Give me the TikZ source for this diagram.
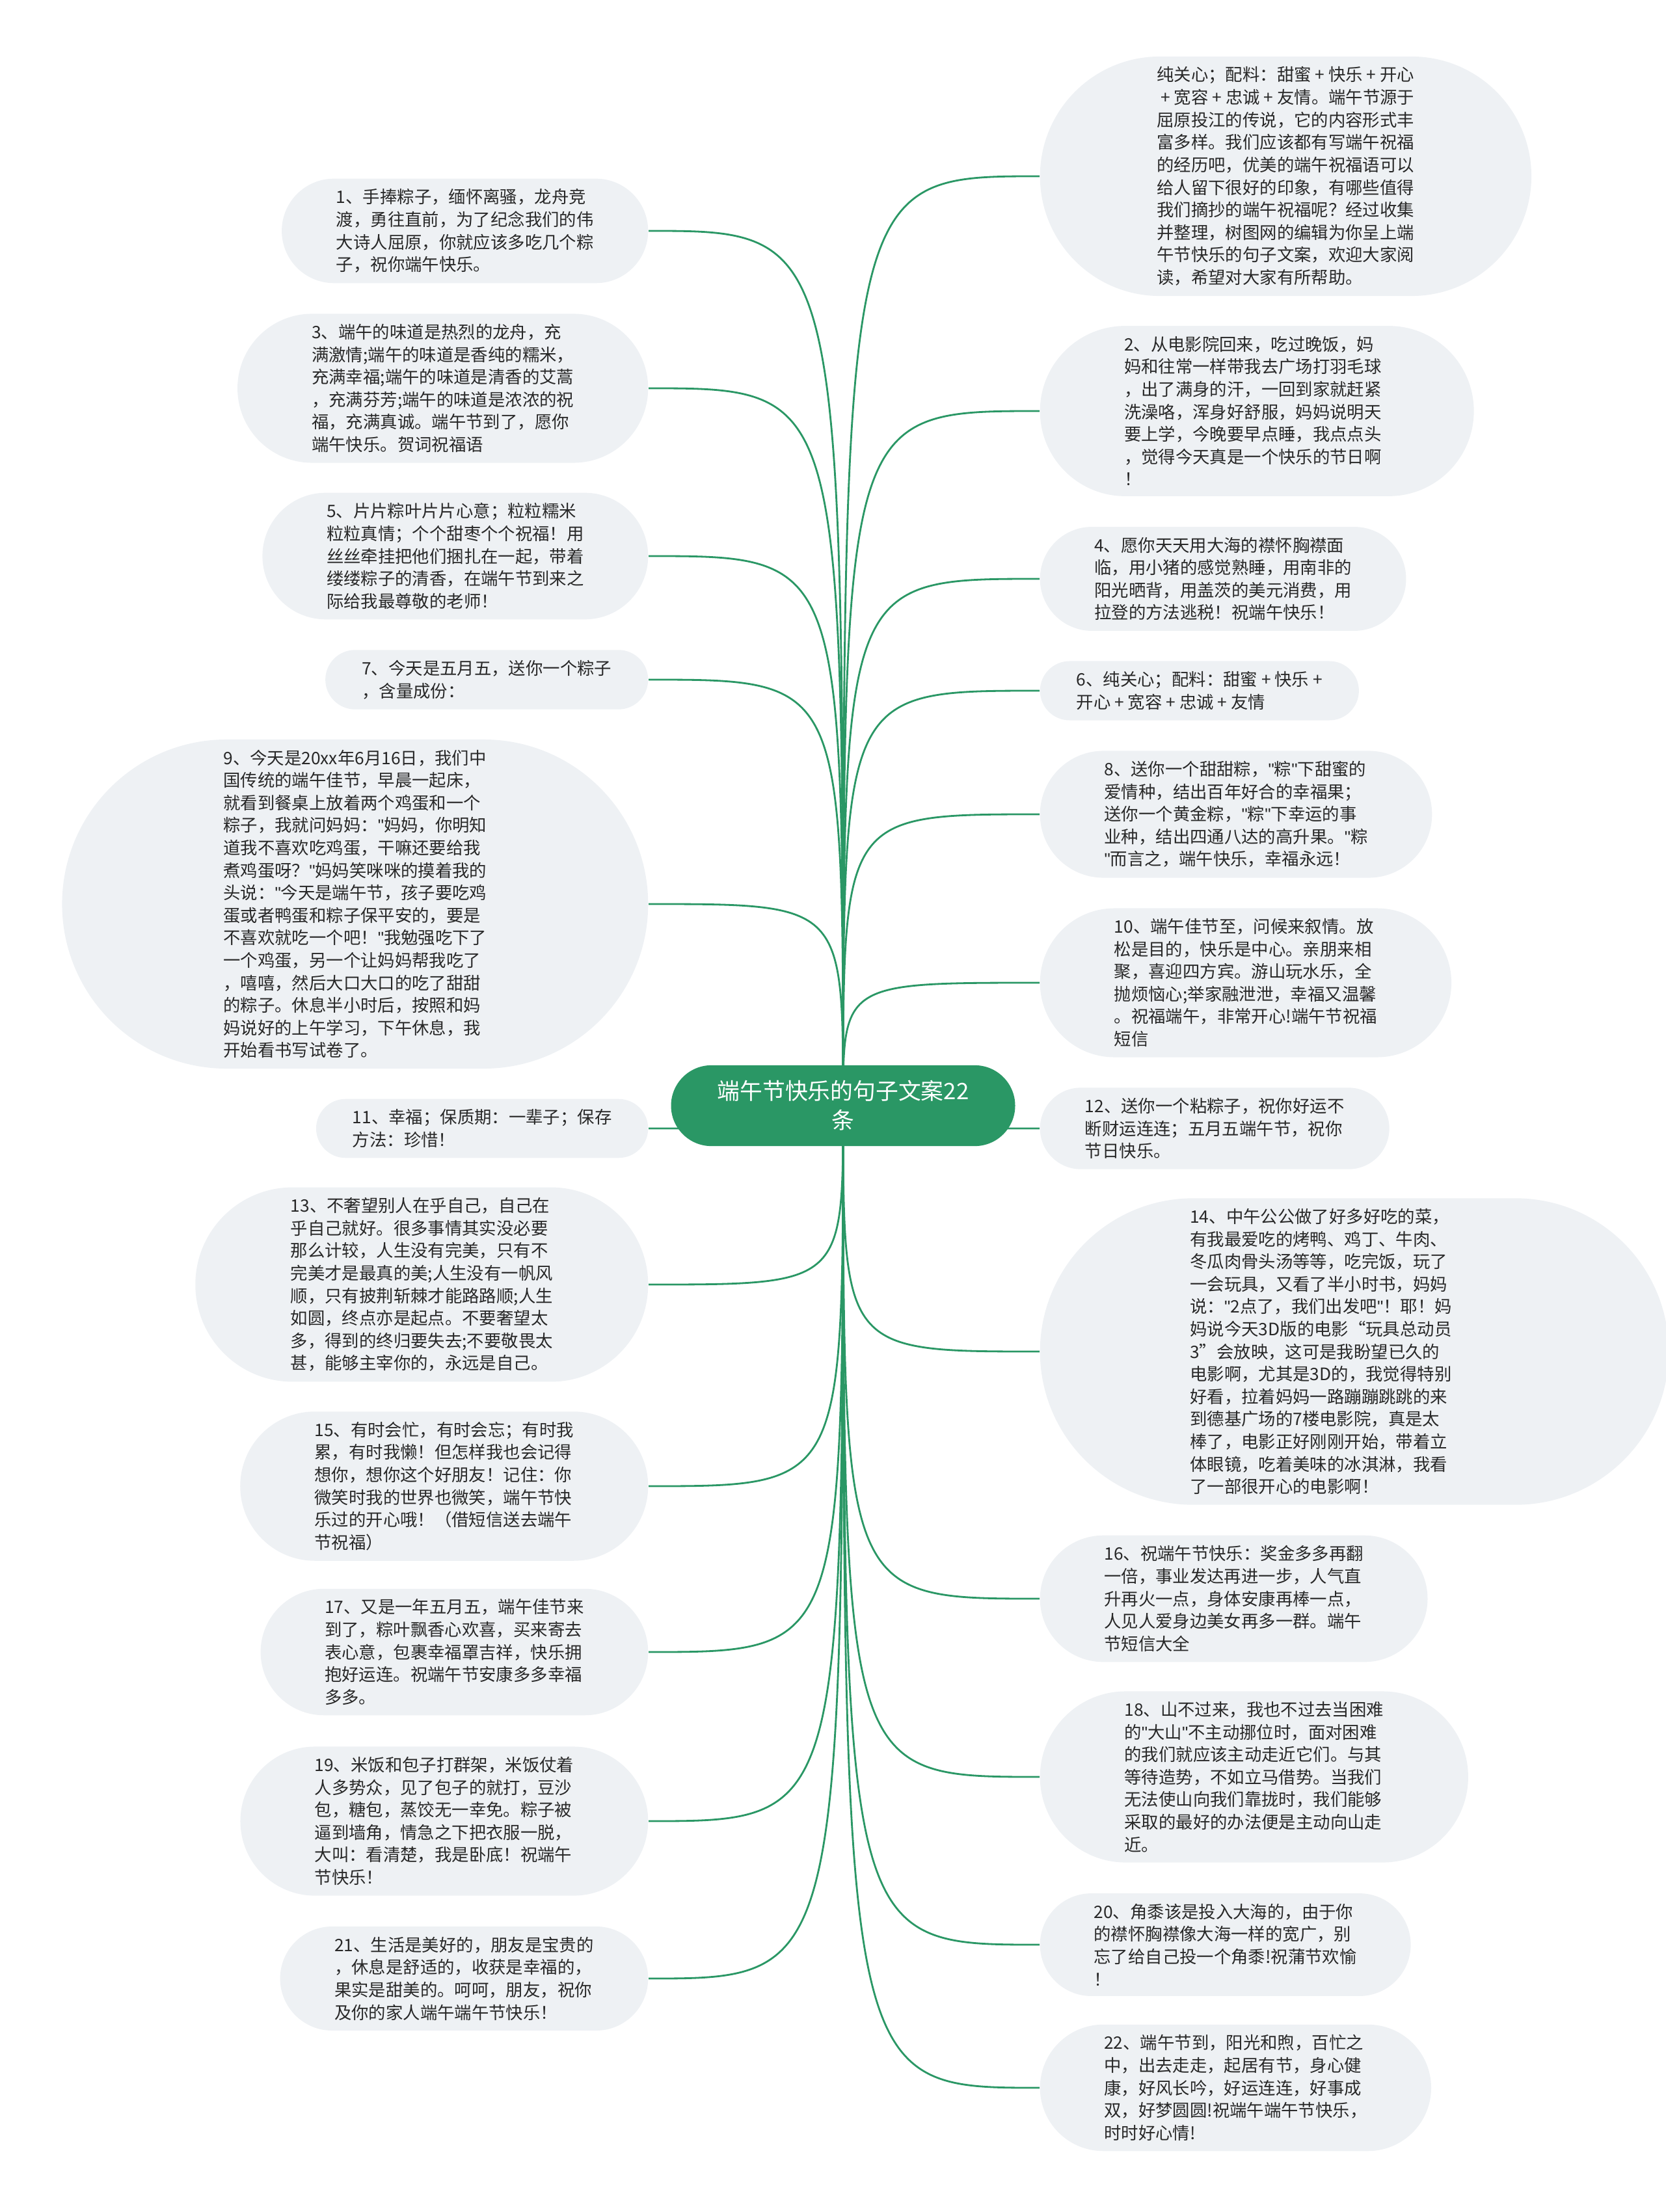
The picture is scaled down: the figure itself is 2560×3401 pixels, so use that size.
\documentclass[tikz,border=0pt]{standalone}
\usepackage{fontspec}
\setmainfont{Noto Sans CJK SC}
\newfontfamily\quotefont{Liberation Sans}
\usepackage{tikz}
\usetikzlibrary{shapes,backgrounds}
\definecolor{zonggreen}{RGB}{42,151,101}
\definecolor{leafgrey}{RGB}{238,241,244}
\definecolor{inkgrey}{RGB}{40,40,40}
\newcommand{\leaffont}{\fontsize{7.5pt}{9.84pt}\selectfont}
\newcommand{\rootfont}{\fontsize{9.9pt}{12.8pt}\selectfont}
\newcommand{\dq}{{\quotefont"}}

\begin{document}
\begin{tikzpicture}[x=0.01cm, y=-0.01cm,
    leaf/.style={rounded rectangle, fill=leafgrey, text=inkgrey, align=left,
        font=\leaffont, inner xsep={11pt+0.9pt*#1}, inner ysep=4.5pt},
    rootbox/.style={rounded rectangle, fill=zonggreen, text=white, align=center,
        font=\rootfont, inner xsep=16.4pt, inner ysep=6.7pt},
    link/.style={draw=zonggreen, line width=0.8pt}]
    \useasboundingbox (0,0) rectangle (2560,3401);

    \node[rootbox] (root) at (1296,1700) {端午节快乐的句子文案22\\条};

    % left side, leaf=<number of lines>
    \begin{scope}[every node/.style={anchor=east}]
        \node[leaf=4] (s1) at (997,355) {1、手捧粽子，缅怀离骚，龙舟竞\\渡，勇往直前，为了纪念我们的伟\\大诗人屈原，你就应该多吃几个粽\\子，祝你端午快乐。};
        \node[leaf=6] (s3) at (997,597) {3、端午的味道是热烈的龙舟，充\\满激情;端午的味道是香纯的糯米，\\充满幸福;端午的味道是清香的艾蒿\\，充满芬芳;端午的味道是浓浓的祝\\福，充满真诚。端午节到了，愿你\\端午快乐。贺词祝福语};
        \node[leaf=5] (s5) at (997,855) {5、片片粽叶片片心意；粒粒糯米\\粒粒真情；个个甜枣个个祝福！用\\丝丝牵挂把他们捆扎在一起，带着\\缕缕粽子的清香，在端午节到来之\\际给我最尊敬的老师！};
        \node[leaf=2] (s7) at (997,1045) {7、今天是五月五，送你一个粽子\\，含量成份：};
        \node[leaf=14] (s9) at (997,1390) {9、今天是20xx年6月16日，我们中\\国传统的端午佳节，早晨一起床，\\就看到餐桌上放着两个鸡蛋和一个\\粽子，我就问妈妈：\dq{}妈妈，你明知\\道我不喜欢吃鸡蛋，干嘛还要给我\\煮鸡蛋呀？\dq{}妈妈笑咪咪的摸着我的\\头说：\dq{}今天是端午节，孩子要吃鸡\\蛋或者鸭蛋和粽子保平安的，要是\\不喜欢就吃一个吧！\dq{}我勉强吃下了\\一个鸡蛋，另一个让妈妈帮我吃了\\，嘻嘻，然后大口大口的吃了甜甜\\的粽子。休息半小时后，按照和妈\\妈说好的上午学习，下午休息，我\\开始看书写试卷了。};
        \node[leaf=2] (s11) at (997,1735) {11、幸福；保质期：一辈子；保存\\方法：珍惜！};
        \node[leaf=8] (s13) at (997,1975) {13、不奢望别人在乎自己，自己在\\乎自己就好。很多事情其实没必要\\那么计较，人生没有完美，只有不\\完美才是最真的美;人生没有一帆风\\顺，只有披荆斩棘才能路路顺;人生\\如圆，终点亦是起点。不要奢望太\\多，得到的终归要失去;不要敬畏太\\甚，能够主宰你的，永远是自己。};
        \node[leaf=6] (s15) at (997,2285) {15、有时会忙，有时会忘；有时我\\累，有时我懒！但怎样我也会记得\\想你，想你这个好朋友！记住：你\\微笑时我的世界也微笑，端午节快\\乐过的开心哦！（借短信送去端午\\节祝福）};
        \node[leaf=5] (s17) at (997,2540) {17、又是一年五月五，端午佳节来\\到了，粽叶飘香心欢喜，买来寄去\\表心意，包裹幸福罩吉祥，快乐拥\\抱好运连。祝端午节安康多多幸福\\多多。};
        \node[leaf=6] (s19) at (997,2800) {19、米饭和包子打群架，米饭仗着\\人多势众，见了包子的就打，豆沙\\包，糖包，蒸饺无一幸免。粽子被\\逼到墙角，情急之下把衣服一脱，\\大叫：看清楚，我是卧底！祝端午\\节快乐！};
        \node[leaf=4] (s21) at (997,3042) {21、生活是美好的，朋友是宝贵的\\，休息是舒适的，收获是幸福的，\\果实是甜美的。呵呵，朋友，祝你\\及你的家人端午端午节快乐！};
    \end{scope}

    % right side
    \begin{scope}[every node/.style={anchor=west}]
        \node[leaf=10] (intro) at (1598,271) {纯关心；配料：甜蜜 + 快乐 + 开心\\\ + 宽容 + 忠诚 + 友情。端午节源于\\屈原投江的传说，它的内容形式丰\\富多样。我们应该都有写端午祝福\\的经历吧，优美的端午祝福语可以\\给人留下很好的印象，有哪些值得\\我们摘抄的端午祝福呢？经过收集\\并整理，树图网的编辑为你呈上端\\午节快乐的句子文案，欢迎大家阅\\读，希望对大家有所帮助。};
        \node[leaf=7, text width=4.08cm] (s2) at (1598,632) {2、从电影院回来，吃过晚饭，妈\\妈和往常一样带我去广场打羽毛球\\，出了满身的汗，一回到家就赶紧\\洗澡咯，浑身好舒服，妈妈说明天\\要上学，今晚要早点睡，我点点头\\，觉得今天真是一个快乐的节日啊\\！};
        \node[leaf=4] (s4) at (1598,890) {4、愿你天天用大海的襟怀胸襟面\\临，用小猪的感觉熟睡，用南非的\\阳光晒背，用盖茨的美元消费，用\\拉登的方法逃税！祝端午快乐！};
        \node[leaf=2] (s6) at (1598,1062) {6、纯关心；配料：甜蜜 + 快乐 +\\开心 + 宽容 + 忠诚 + 友情};
        \node[leaf=5] (s8) at (1598,1252) {8、送你一个甜甜粽，\dq{}粽\dq{}下甜蜜的\\爱情种，结出百年好合的幸福果；\\送你一个黄金粽，\dq{}粽\dq{}下幸运的事\\业种，结出四通八达的高升果。\dq{}粽\\\dq{}而言之，端午快乐，幸福永远！};
        \node[leaf=6] (s10) at (1598,1511) {10、端午佳节至，问候来叙情。放\\松是目的，快乐是中心。亲朋来相\\聚，喜迎四方宾。游山玩水乐，全\\抛烦恼心;举家融泄泄，幸福又温馨\\。祝福端午，非常开心!端午节祝福\\短信};
        \node[leaf=3] (s12) at (1598,1735) {12、送你一个粘粽子，祝你好运不\\断财运连连；五月五端午节，祝你\\节日快乐。};
        \node[leaf=13, text width=5.05cm] (s14) at (1598,2078) {14、中午公公做了好多好吃的菜，\\有我最爱吃的烤鸭、鸡丁、牛肉、\\冬瓜肉骨头汤等等，吃完饭，玩了\\一会玩具，又看了半小时书，妈妈\\说：\dq{}2点了，我们出发吧\dq{}！耶！妈\\妈说今天3D版的电影“玩具总动员\\3”会放映，这可是我盼望已久的\\电影啊，尤其是3D的，我觉得特别\\好看，拉着妈妈一路蹦蹦跳跳的来\\到德基广场的7楼电影院，真是太\\棒了，电影正好刚刚开始，带着立\\体眼镜，吃着美味的冰淇淋，我看\\了一部很开心的电影啊！};
        \node[leaf=5] (s16) at (1598,2458) {16、祝端午节快乐：奖金多多再翻\\一倍，事业发达再进一步，人气直\\升再火一点，身体安康再棒一点，\\人见人爱身边美女再多一群。端午\\节短信大全};
        \node[leaf=7] (s18) at (1598,2732) {18、山不过来，我也不过去当困难\\的\dq{}大山\dq{}不主动挪位时，面对困难\\的我们就应该主动走近它们。与其\\等待造势，不如立马借势。当我们\\无法使山向我们靠拢时，我们能够\\采取的最好的办法便是主动向山走\\近。};
        \node[leaf=4] (s20) at (1598,2990) {20、角黍该是投入大海的，由于你\\的襟怀胸襟像大海一样的宽广，别\\忘了给自己投一个角黍!祝蒲节欢愉\\！};
        \node[leaf=5] (s22) at (1598,3210) {22、端午节到，阳光和煦，百忙之\\中，出去走走，起居有节，身心健\\康，好风长吟，好运连连，好事成\\双，好梦圆圆!祝端午端午节快乐，\\时时好心情!};
    \end{scope}

    \begin{scope}[on background layer]
        \foreach \s in {s1,s3,s5,s7,s9,s11,s13,s15,s17,s19,s21}
            \draw[link] (root.center) .. controls (root.center |- \s.east) .. (\s.east);
        \foreach \s in {intro,s2,s4,s6,s8,s10,s12,s14,s16,s18,s20,s22}
            \draw[link] (root.center) .. controls (root.center |- \s.west) .. (\s.west);
    \end{scope}
\end{tikzpicture}
\end{document}
